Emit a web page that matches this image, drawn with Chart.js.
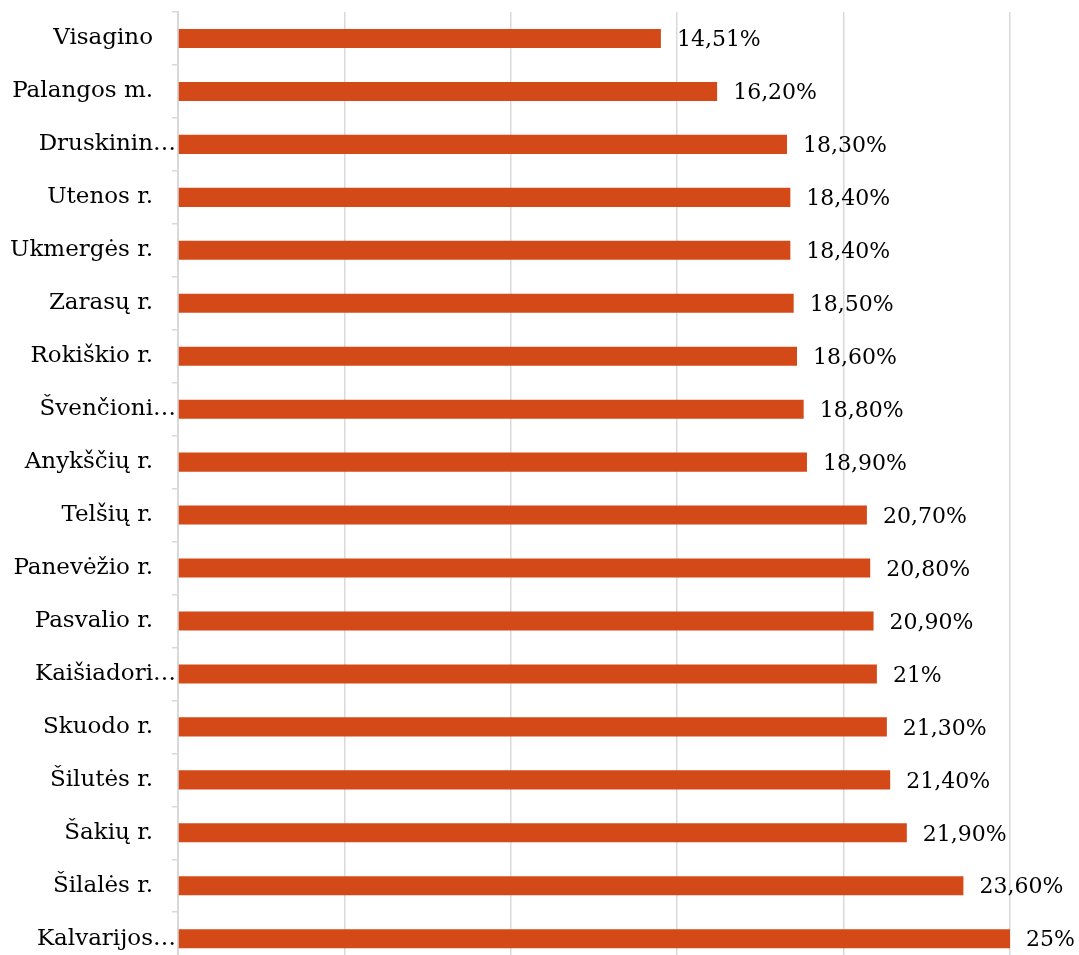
<!DOCTYPE html>
<html>
<head>
<meta charset="utf-8">
<title>Savivaldybės</title>
<script src="https://cdn.jsdelivr.net/npm/chart.js@4.4.1/dist/chart.umd.min.js"></script>
<style>
    html, body { margin: 0; padding: 0; background: #fff; overflow: hidden; }
    #wrap { width: 1079px; height: 975px; }
</style>
</head>
<body>
<div id="wrap"><canvas id="myChart" width="1079" height="975"></canvas></div>
<script>
// categories (top to bottom)
var regions = [
    'Visagino', 'Palangos m.', 'Druskinin…', 'Utenos r.', 'Ukmergės r.', 'Zarasų r.',
    'Rokiškio r.', 'Švenčioni…', 'Anykščių r.', 'Telšių r.', 'Panevėžio r.', 'Pasvalio r.',
    'Kaišiadori…', 'Skuodo r.', 'Šilutės r.', 'Šakių r.', 'Šilalės r.', 'Kalvarijos…'
];
// values in %
var shares = [
    14.51, 16.2, 18.3, 18.4, 18.4, 18.5,
    18.6, 18.8, 18.9, 20.7, 20.8, 20.9,
    21, 21.3, 21.4, 21.9, 23.6, 25
];
var axisMin = 0;
var axisMax = 25;
var axisStep = 5;

var fontFamily = '"DejaVu Serif", "Liberation Serif", serif';

// lt format: 18,30% ; 21%
var fmtPct = function (v) {
    if (Number.isInteger(v)) {
        return v + '%';
    }
    return v.toFixed(2).replace('.', ',') + '%';
};

// value labels to the right of every bar
var valueLabels = {
    id: 'valueLabels',
    afterDatasetsDraw: function (chart) {
        var ctx = chart.ctx;
        var meta = chart.getDatasetMeta(0);
        ctx.save();
        ctx.font = '22px ' + fontFamily;
        ctx.fillStyle = '#000';
        ctx.textAlign = 'left';
        ctx.textBaseline = 'middle';
        meta.data.forEach(function (bar, i) {
            ctx.fillText(fmtPct(shares[i]), bar.x + 16, bar.y + 2);
        });
        ctx.restore();
    }
};

var ctx = document.getElementById('myChart').getContext('2d');
var myChart = new Chart(ctx, {
    type: 'bar',
    data: {
        labels: regions,
        datasets: [{
            data: shares,
            backgroundColor: '#D34A18',
            borderWidth: 0,
            categoryPercentage: 1,
            barPercentage: 0.36
        }]
    },
    options: {
        indexAxis: 'y',
        responsive: false,
        animation: false,
        layout: { padding: { top: 12, right: 69, bottom: 0, left: 0 } },
        plugins: {
            legend: { display: false },
            tooltip: { enabled: false }
        },
        scales: {
            x: {
                min: axisMin,
                max: axisMax,
                afterFit: function (scale) { scale.height = 0; },
                ticks: { stepSize: axisStep, display: false },
                grid: { color: '#d9d9d9', lineWidth: 1.5, drawTicks: false },
                border: { display: false }
            },
            y: {
                afterFit: function (scale) { scale.width = 178; },
                ticks: {
                    color: '#000',
                    padding: -4,
                    font: { family: fontFamily, size: 23 },
                    callback: function (val, idx) {
                        var s = regions[idx];
                        // excel keeps a little gap after untruncated names
                        return s.slice(-1) === '…' ? s : s + '\u2002\u2002';
                    }
                },
                grid: { color: '#d9d9d9', lineWidth: 1.5, drawOnChartArea: false, tickLength: 6 },
                border: { color: '#d9d9d9', width: 2 }
            }
        }
    },
    plugins: [valueLabels]
});
</script>
</body>
</html>
